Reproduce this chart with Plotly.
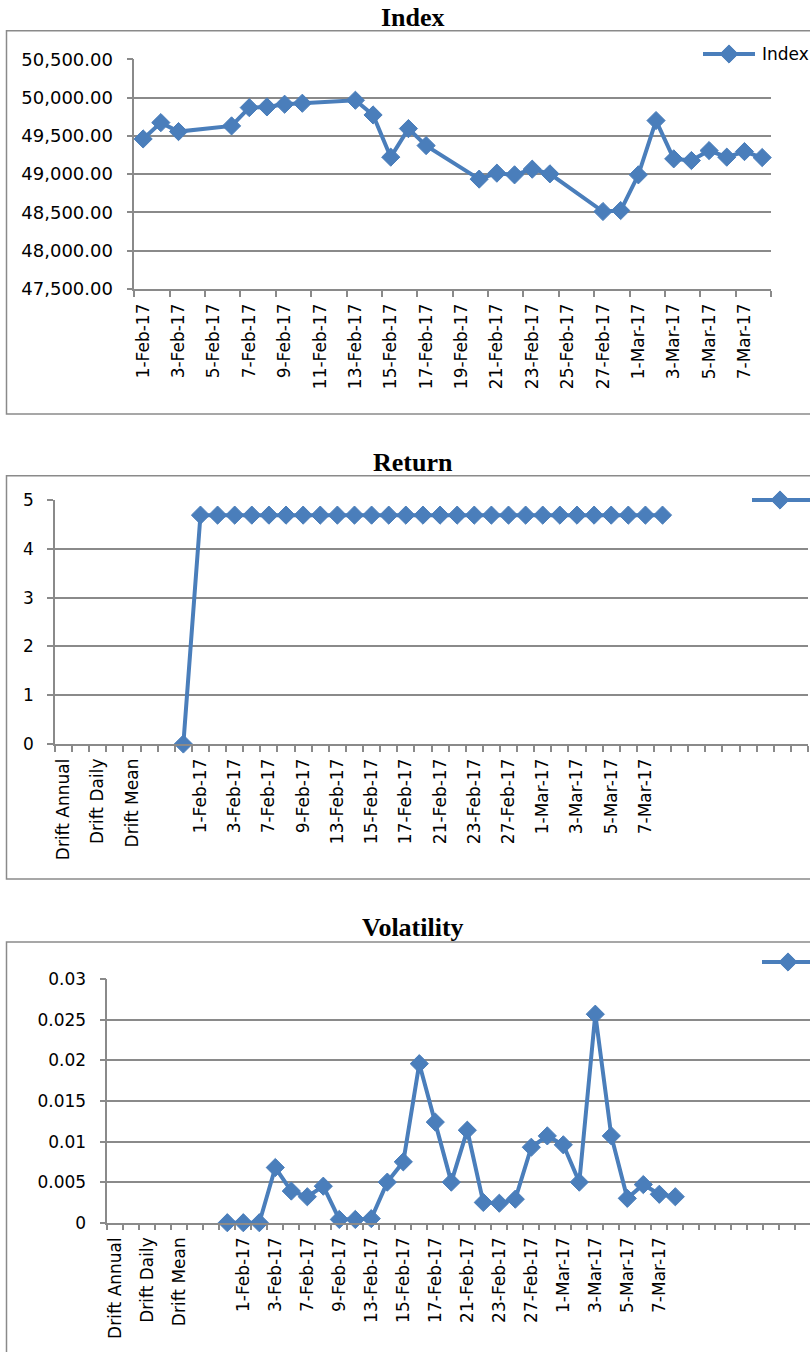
import pandas as pd
import plotly.graph_objects as go

# ---------------- Index series (date axis) ----------------
index_dates = [
    "2017-02-01", "2017-02-02", "2017-02-03", "2017-02-06", "2017-02-07", "2017-02-08",
    "2017-02-09", "2017-02-10", "2017-02-13", "2017-02-14", "2017-02-15", "2017-02-16",
    "2017-02-17", "2017-02-20", "2017-02-21", "2017-02-22", "2017-02-23", "2017-02-24",
    "2017-02-27", "2017-02-28", "2017-03-01", "2017-03-02", "2017-03-03", "2017-03-04",
    "2017-03-05", "2017-03-06", "2017-03-07", "2017-03-08",
]
index_values = [
    49460, 49673, 49556, 49630, 49869, 49878,
    49913, 49926, 49965, 49773, 49222, 49595,
    49373, 48935, 49013, 48991, 49065, 49004,
    48512, 48525, 48991, 49700, 49200, 49178,
    49308, 49222, 49295, 49217,
]
index_tick_labels = [
    "1-Feb-17", "3-Feb-17", "5-Feb-17", "7-Feb-17", "9-Feb-17", "11-Feb-17",
    "13-Feb-17", "15-Feb-17", "17-Feb-17", "19-Feb-17", "21-Feb-17", "23-Feb-17",
    "25-Feb-17", "27-Feb-17", "1-Mar-17", "3-Mar-17", "5-Mar-17", "7-Mar-17",
]
index_y_ticks = [47500, 48000, 48500, 49000, 49500, 50000, 50500]

# ---------------- Return / Volatility (category axis) ----------------
drift_categories = [
    "Drift Annual", "", "Drift Daily", "", "Drift Mean", "", "", "",
    "1-Feb-17", "2-Feb-17", "3-Feb-17", "6-Feb-17", "7-Feb-17", "8-Feb-17",
    "9-Feb-17", "10-Feb-17", "13-Feb-17", "14-Feb-17", "15-Feb-17", "16-Feb-17",
    "17-Feb-17", "20-Feb-17", "21-Feb-17", "22-Feb-17", "23-Feb-17", "24-Feb-17",
    "27-Feb-17", "28-Feb-17", "1-Mar-17", "2-Mar-17", "3-Mar-17", "4-Mar-17",
    "5-Mar-17", "6-Mar-17", "7-Mar-17", "8-Mar-17",
    "", "", "", "", "", "", "", "",
]
return_values = [
    None, None, None, None, None, None, None, 0.0,
    4.69, 4.69, 4.69, 4.69, 4.69, 4.69,
    4.69, 4.69, 4.69, 4.69, 4.69, 4.69,
    4.69, 4.69, 4.69, 4.69, 4.69, 4.69,
    4.69, 4.69, 4.69, 4.69, 4.69, 4.69,
    4.69, 4.69, 4.69, 4.69,
    None, None, None, None, None, None, None, None,
]
volatility_values = [
    None, None, None, None, None, None, None, 0.0,
    0.0, 0.0, 0.0068, 0.0039, 0.0032, 0.0045,
    0.0004, 0.0004, 0.0005, 0.0050, 0.0075, 0.0196,
    0.0124, 0.0050, 0.0114, 0.0025, 0.0024, 0.0029,
    0.0093, 0.0107, 0.0096, 0.0050, 0.0257, 0.0107,
    0.0030, 0.0047, 0.0035, 0.0032,
    None, None, None, None, None, None, None, None,
]
return_y_ticks = [0, 1, 2, 3, 4, 5]
volatility_y_ticks = [0, 0.005, 0.01, 0.015, 0.02, 0.025, 0.03]
volatility_y_labels = ["0", "0.005", "0.01", "0.015", "0.02", "0.025", "0.03"]

# ---------------- styling ----------------
W, H = 810, 1352
BLUE = "#4A7EBB"
GRID = "#8A8A8A"
TICK_FONT = dict(family="DejaVu Sans", size=17, color="black")
TITLE_FONT = dict(family="Liberation Serif", size=26, color="black")


def px_x(v):
    return v / W


def px_y(v):
    return 1 - v / H


line_style = dict(color=BLUE, width=4)
marker_style = dict(symbol="diamond", size=14, color=BLUE, line=dict(color=BLUE, width=1))

fig = go.Figure()

fig.add_trace(go.Scatter(
    x=index_dates, y=index_values, mode="lines+markers", name="Index",
    line=line_style, marker=marker_style, xaxis="x", yaxis="y", cliponaxis=False,
))

cat_pos = list(range(len(drift_categories)))
fig.add_trace(go.Scatter(
    x=cat_pos, y=return_values, mode="lines+markers", name="Return",
    line=line_style, marker=marker_style, xaxis="x2", yaxis="y2", cliponaxis=False,
))
fig.add_trace(go.Scatter(
    x=cat_pos, y=volatility_values, mode="lines+markers", name="Volatility",
    line=line_style, marker=marker_style, xaxis="x3", yaxis="y3", cliponaxis=False,
))

# legend swatches on a pixel overlay: a short line with a diamond in the middle
legend_swatches = [(703, 729, 755, 54), (752, 780, 812, 500), (762, 788, 812, 962)]
for x0, xm, x1, yy in legend_swatches:
    fig.add_trace(go.Scatter(
        x=[x0, x1], y=[yy, yy], mode="lines", line=line_style,
        xaxis="x7", yaxis="y7", cliponaxis=False, hoverinfo="skip",
    ))
    fig.add_trace(go.Scatter(
        x=[xm], y=[yy], mode="markers", marker=marker_style,
        xaxis="x7", yaxis="y7", cliponaxis=False, hoverinfo="skip",
    ))

label_axis = dict(
    showgrid=False, zeroline=False, showline=True, linecolor=GRID, linewidth=1.5,
    ticks="", tickangle=-90, tickfont=TICK_FONT, ticklabelstandoff=6,
)
common_y = dict(
    showgrid=True, gridcolor=GRID, gridwidth=1.5, zeroline=False, showline=True,
    linecolor=GRID, linewidth=1.5, ticks="outside", ticklen=6, tickcolor=GRID,
    tickwidth=1.5, tickfont=TICK_FONT, ticklabelstandoff=10,
)


def minor_ticks(vals):
    return dict(tickmode="array", tickvals=vals, ticks="outside", ticklen=6,
                tickcolor=GRID, tickwidth=1.5, showgrid=False)


index_tick_vals = [d.strftime("%Y-%m-%d") for d in pd.to_datetime(index_tick_labels, format="%d-%b-%y")]
index_bounds = [d.strftime("%Y-%m-%d 12:00") for d in
                pd.date_range("2017-01-31", "2017-03-08", freq="2D")]
index_y_labels = [f"{v:,.2f}" for v in index_y_ticks]
index_range = ["2017-01-31 12:00", "2017-03-08 12:00"]

cat_bounds = [k - 0.5 for k in range(len(drift_categories) + 1)]
vol_range = [-0.5, -0.5 + (810 - 107.3) / 16.0]

fig.update_layout(
    width=W, height=H,
    margin=dict(l=0, r=0, t=0, b=0, autoexpand=False),
    paper_bgcolor="white", plot_bgcolor="rgba(0,0,0,0)",
    showlegend=False,
    # Index chart
    xaxis=dict(label_axis, type="date", domain=[px_x(134.3), px_x(771)], anchor="y",
               range=index_range, tickmode="array",
               tickvals=index_tick_vals, ticktext=index_tick_labels,
               minor=minor_ticks(index_bounds)),
    yaxis=dict(common_y, domain=[px_y(289), px_y(59.3)], anchor="x",
               range=[47500, 50500], tickmode="array",
               tickvals=index_y_ticks, ticktext=index_y_labels,
               tickfont=dict(TICK_FONT, size=18)),
    # Return chart
    xaxis2=dict(label_axis, domain=[px_x(55), px_x(808)], anchor="y2", range=[-0.5, 43.5],
                tickmode="array", tickvals=cat_pos[::2], ticktext=drift_categories[::2],
                minor=minor_ticks(cat_bounds)),
    yaxis2=dict(common_y, domain=[px_y(744), px_y(500)], anchor="x2",
                range=[0, 5], tickmode="array", tickvals=return_y_ticks,
                ticktext=[str(v) for v in return_y_ticks]),
    # Volatility chart
    xaxis3=dict(label_axis, domain=[px_x(107.3), 1.0], anchor="y3", range=vol_range,
                tickmode="array", tickvals=cat_pos[::2], ticktext=drift_categories[::2],
                minor=minor_ticks(cat_bounds)),
    yaxis3=dict(common_y, domain=[px_y(1222.7), px_y(979.3)], anchor="x3",
                range=[0, 0.03], tickmode="array", tickvals=volatility_y_ticks,
                ticktext=volatility_y_labels),
    # pixel overlay for frames, titles and legend swatches
    xaxis7=dict(domain=[0, 1], range=[0, W], visible=False, anchor="y7"),
    yaxis7=dict(domain=[0, 1], range=[H, 0], visible=False, anchor="x7"),
)

# chart frames
for top, bottom in [(30.7, 414), (475.7, 879), (942, 1370)]:
    fig.add_shape(type="rect", xref="x7", yref="y7", x0=6.5, x1=830, y0=top, y1=bottom,
                  line=dict(color=GRID, width=1.5), fillcolor="rgba(0,0,0,0)", layer="below")

# chart titles
for text, yy in [("Index", 17), ("Return", 462), ("Volatility", 927)]:
    fig.add_annotation(text=f"<b>{text}</b>", x=412.5, y=yy, xref="x7", yref="y7",
                       showarrow=False, font=TITLE_FONT, xanchor="center", yanchor="middle")

# legend label of the Index chart
fig.add_annotation(text="Index", x=760, y=54, xref="x7", yref="y7", showarrow=False,
                   font=TICK_FONT, xanchor="left", yanchor="middle")

fig.write_html("out.html")
